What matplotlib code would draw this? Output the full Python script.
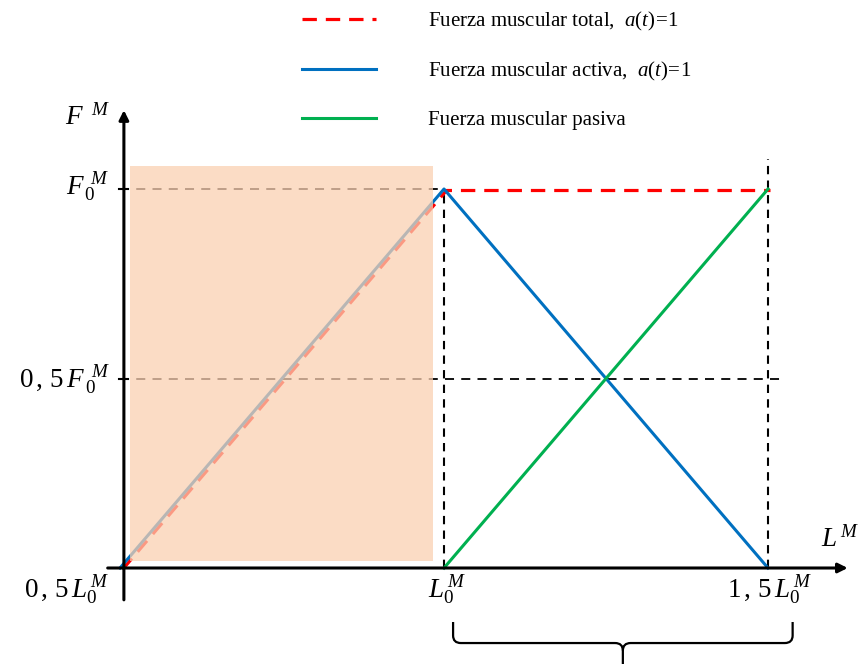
import matplotlib
matplotlib.use("Agg")
import matplotlib.pyplot as plt
import matplotlib.transforms as mtransforms
from matplotlib.lines import Line2D
from matplotlib.patches import Rectangle, PathPatch
from matplotlib.path import Path

plt.rcParams['font.family'] = ['Liberation Serif', 'DejaVu Serif']
plt.rcParams['mathtext.fontset'] = 'custom'
plt.rcParams['mathtext.rm'] = 'Liberation Serif'
plt.rcParams['mathtext.it'] = 'Liberation Serif:italic'
plt.rcParams['mathtext.bf'] = 'Liberation Serif:bold'

# Normalised muscle length (L/L0) and force (F/F0)
length_ticks = [0.5, 1.0, 1.5]
force_ticks = [0.5, 1.0]

active_len = [0.5, 1.0, 1.5]
active_force = [0.0, 1.0, 0.0]
passive_len = [1.0, 1.5]
passive_force = [0.0, 1.0]
total_len = [0.5, 1.0, 1.5]
total_force = [0.0, 1.0, 1.0]

# Highlighted region (short-length zone)
region_len = [0.515, 0.983]
region_force = [0.018, 1.061]

legend_labels = [
    r'Fuerza muscular total,  $\mathit{a(t)\!=\!1}$',
    r'Fuerza muscular activa,  $\mathit{a(t)\!=\!1}$',
    'Fuerza muscular pasiva',
]

RED = '#FF0000'
BLUE = '#0070C0'
GREEN = '#00B050'

fig = plt.figure(figsize=(8.61, 6.64), dpi=100)
ax = fig.add_axes([0, 0, 1, 1])
ax.set_xlim(0.3148, 1.6435)
ax.set_ylim(-0.2533, 1.4987)
ax.axis('off')

# Reference dashed guides
ax.plot([length_ticks[0], length_ticks[1]], [force_ticks[1]] * 2, color='black',
        lw=1.3, dashes=(5, 4), zorder=1)
ax.plot([length_ticks[0], 1.518], [force_ticks[0]] * 2, color='black',
        lw=1.3, dashes=(5, 4), zorder=1)
ax.plot([length_ticks[1]] * 2, [0, force_ticks[1]], color='black',
        lw=1.5, dashes=(4, 3), zorder=1)
ax.plot([length_ticks[2]] * 2, [0, 1.08], color='black',
        lw=1.5, dashes=(4, 3), zorder=1)

# Curves
shifted = mtransforms.offset_copy(ax.transData, fig=fig, x=2.5, y=-1.5, units='dots')
ax.plot(total_len, total_force, color=RED, lw=2.3, dashes=(4.5, 2.8),
        transform=shifted, zorder=2)
ax.plot(active_len, active_force, color=BLUE, lw=2.2, zorder=3)
ax.plot(passive_len, passive_force, color=GREEN, lw=2.2, zorder=3)

# Shaded region drawn over the curves
ax.add_patch(Rectangle((region_len[0], region_force[0]),
                       region_len[1] - region_len[0],
                       region_force[1] - region_force[0],
                       facecolor=(250/255, 208/255, 177/255), alpha=0.74,
                       edgecolor='none', zorder=4))

# Axes with arrow heads
ax.annotate('', xy=(length_ticks[0] + 0.006, 1.208),
            xytext=(length_ticks[0] + 0.006, -0.084),
            arrowprops=dict(arrowstyle='-|>', color='black', lw=2.2,
                            mutation_scale=14, shrinkA=0, shrinkB=0), zorder=5)
ax.annotate('', xy=(1.623, 0), xytext=(0.481, 0),
            arrowprops=dict(arrowstyle='-|>', color='black', lw=2.2,
                            mutation_scale=14, shrinkA=0, shrinkB=0), zorder=5)
# small tick marks on the y axis
for f in force_ticks:
    ax.plot([length_ticks[0] - 0.002, length_ticks[0] + 0.012], [f, f],
            color='black', lw=1.5, zorder=5)

# Axis labels
fs = 19.5
ax.text(0.484, 1.19, r'$F^{\;\;M}$', fontsize=fs, ha='right', va='center')
ax.text(0.484, force_ticks[1] + 0.005, r'$F_{\,0}^{\;\,M}$', fontsize=fs,
        ha='right', va='center')
ax.text(0.484, force_ticks[0] - 0.005, r'$0\,,\,5\,F_{\,0}^{\;\,M}$', fontsize=fs,
        ha='right', va='center')
ax.text(0.484, -0.058, r'$0\,,\,5\,L_{0}^{\,M}$', fontsize=fs, ha='right', va='center')
ax.text(length_ticks[1] + 0.005, -0.058, r'$L_{0}^{\,M}$', fontsize=fs,
        ha='center', va='center')
ax.text(length_ticks[2] + 0.003, -0.058, r'$1\,,\,5\,L_{0}^{\,M}$', fontsize=fs,
        ha='center', va='center')
ax.text(1.641, 0.075, r'$L^{\,M}$', fontsize=fs, ha='right', va='center')

# Bracket under the upper length range
x0 = length_ticks[1] + 0.014
x1 = length_ticks[2] + 0.038
xm = 0.5 * (x0 + x1)
ytop, ybar, ybot = -0.1425, -0.198, -0.2533
r = 0.012
verts = [(x0, ytop), (x0, ybar + 0.02), (x0, ybar), (x0 + r, ybar),
         (xm - r, ybar), (xm, ybar), (xm, ybar - 0.02), (xm, ybot)]
codes = [Path.MOVETO, Path.LINETO, Path.CURVE3, Path.CURVE3,
         Path.LINETO, Path.CURVE3, Path.CURVE3, Path.LINETO]
ax.add_patch(PathPatch(Path(verts, codes), fill=False, lw=1.6, color='black',
                       clip_on=False))
verts2 = [(x1, ytop), (x1, ybar + 0.02), (x1, ybar), (x1 - r, ybar),
          (xm + r, ybar), (xm, ybar), (xm, ybar - 0.02)]
codes2 = [Path.MOVETO, Path.LINETO, Path.CURVE3, Path.CURVE3,
          Path.LINETO, Path.CURVE3, Path.CURVE3]
ax.add_patch(PathPatch(Path(verts2, codes2), fill=False, lw=1.6, color='black',
                       clip_on=False))

# Legend
handles = [
    Line2D([], [], color=RED, lw=2.3, dashes=(4.5, 2.8)),
    Line2D([], [], color=BLUE, lw=2.2),
    Line2D([], [], color=GREEN, lw=2.2),
]
fig.legend(handles, legend_labels, loc='upper left',
           bbox_to_anchor=(302 / 861, 1 - 10 / 664), frameon=False,
           fontsize=15, handlelength=3.55, handletextpad=2.5,
           labelspacing=1.3, borderpad=0, borderaxespad=0)

fig.savefig('out.png', dpi=100)
